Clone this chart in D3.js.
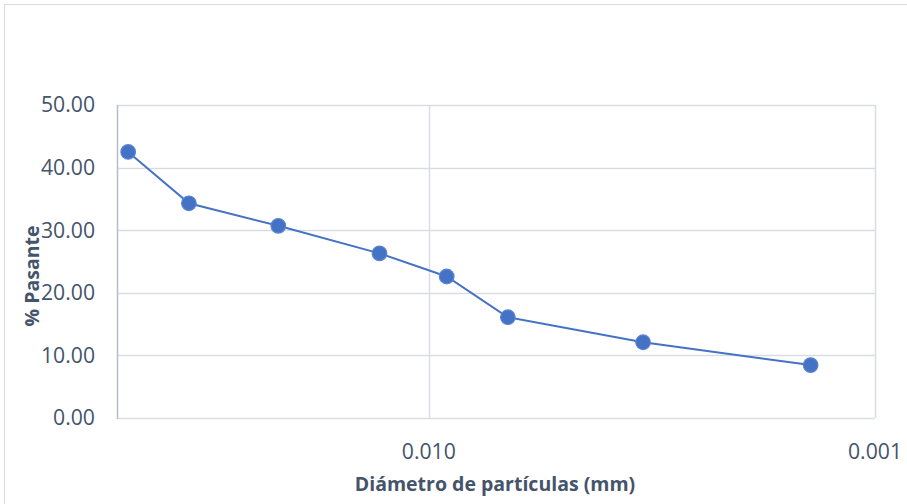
<!DOCTYPE html>
<html><head><meta charset="utf-8">
<script src="https://cdn.jsdelivr.net/npm/d3@7"></script>
<style>body{margin:0;background:#fff}svg{display:block}</style>
</head><body>
<script>
const diameters = [0.0472, 0.0345, 0.02175, 0.0129, 0.00912, 0.00665, 0.00331, 0.001394];
const pasante = [42.5, 34.3, 30.7, 26.3, 22.6, 16.1, 12.1, 8.45];
const yTicks = [0, 10, 20, 30, 40, 50];
const xTicks = [0.01, 0.001];
const xTickLabels = ["0.010", "0.001"];
const xTitle = "Diámetro de partículas (mm)";
const yTitle = "% Pasante";

const W = 907, H = 504;
const svg = d3.select("body").append("svg").attr("width", W).attr("height", H);
svg.append("rect").attr("x", 4.5).attr("y", 4.5).attr("width", W + 10).attr("height", H + 10)
  .attr("fill", "#fff").attr("stroke", "#d9d9d9").attr("stroke-width", 1);

const x = d3.scaleLog().domain([0.05, 0.001]).range([117, 875]);
const y = d3.scaleLinear().domain([0, 50]).range([418, 105]);
const font = "'Open Sans', sans-serif";
const txt = "#44546a";

// horizontal gridlines
svg.append("g").selectAll("line").data(yTicks).join("line")
  .attr("x1", 117).attr("x2", 875).attr("y1", d => Math.round(y(d)) + 0.5).attr("y2", d => Math.round(y(d)) + 0.5)
  .attr("stroke", "#d9dde3").attr("stroke-width", 1.5);
// vertical gridlines
svg.append("g").selectAll("line").data(xTicks).join("line")
  .attr("x1", d => Math.round(x(d)) + 0.5).attr("x2", d => Math.round(x(d)) + 0.5).attr("y1", 105).attr("y2", 418)
  .attr("stroke", "#d9dde3").attr("stroke-width", 1.5);
// y axis line
svg.append("line").attr("x1", 117.5).attr("x2", 117.5).attr("y1", 105).attr("y2", 419)
  .attr("stroke", "#b4bccc").attr("stroke-width", 1.5);

// y tick labels
svg.append("g").selectAll("text").data(yTicks).join("text")
  .attr("x", 95).attr("y", d => y(d)).attr("dy", "0.35em").attr("text-anchor", "end")
  .attr("font-family", font).attr("font-size", 21.2).attr("fill", txt).text(d => d.toFixed(2));
// x tick labels
svg.append("g").selectAll("text").data(xTicks).join("text")
  .attr("x", d => x(d)).attr("y", 452).attr("dy", "0.35em").attr("text-anchor", "middle")
  .attr("font-family", font).attr("font-size", 21.2).attr("fill", txt).text((d, i) => xTickLabels[i]);

// titles
svg.append("text").attr("x", 495).attr("y", 484).attr("dy", "0.35em").attr("text-anchor", "middle")
  .attr("font-family", font).attr("font-weight", "bold").attr("font-size", 19.5).attr("fill", txt).text(xTitle);
svg.append("text").attr("transform", "translate(32,276) rotate(-90)").attr("dy", "0.35em").attr("text-anchor", "middle")
  .attr("font-family", font).attr("font-weight", "bold").attr("font-size", 19.5).attr("fill", txt).text(yTitle);

const data = diameters.map((d, i) => ({d, p: pasante[i]}));
svg.append("path").datum(data)
  .attr("d", d3.line().x(d => x(d.d)).y(d => y(d.p)))
  .attr("fill", "none").attr("stroke", "#4472c4").attr("stroke-width", 2);
svg.append("g").selectAll("circle").data(data).join("circle")
  .attr("cx", d => x(d.d)).attr("cy", d => y(d.p)).attr("r", 7.3)
  .attr("fill", "#4472c4").attr("stroke", "#5b84cf").attr("stroke-width", 1.2);
</script>
</body></html>
